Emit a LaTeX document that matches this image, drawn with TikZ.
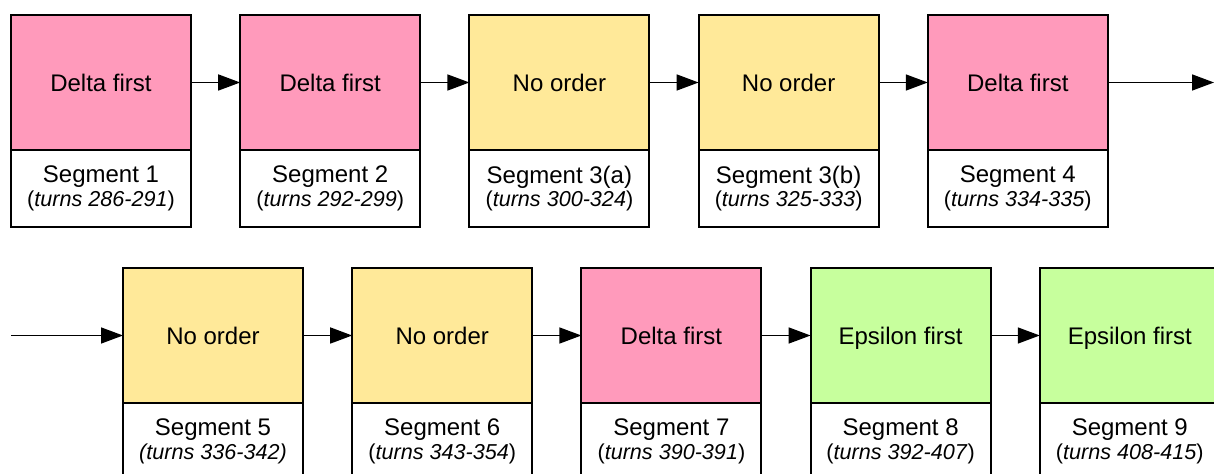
\documentclass[tikz,border=0pt]{standalone}
\usepackage{fontspec}
\setmainfont{Liberation Sans}
\usepackage{tikz}
\usetikzlibrary{positioning}
\usetikzlibrary{arrows.meta}

\definecolor{deltapink}{RGB}{255,154,187}
\definecolor{noneyellow}{RGB}{255,233,153}
\definecolor{epsgreen}{RGB}{199,255,157}
\newcommand{\turnsfont}{\fontsize{10.8}{11.7}\selectfont}

\begin{document}
\begin{tikzpicture}[
		x=0.5pt, y=-0.5pt,
		node distance=24.6pt,
		every node/.style={draw,line width=1pt,minimum width=90pt,inner sep=0pt,outer sep=0pt,
			font=\fontsize{12}{11.7}\selectfont},
		segbox/.style={minimum height=67.5pt,text height=8.7pt,text depth=0pt},
		lab/.style={fill=white,minimum height=38.5pt,align=center},
		deltafirst/.style={segbox,fill=deltapink},
		noorder/.style={segbox,fill=noneyellow},
		epsfirst/.style={segbox,fill=epsgreen},
		link/.style={-{Triangle[length=11pt,width=8pt]},line width=0.75pt}
		]
		\useasboundingbox (0,0) rectangle (1214,474);
		% first row
		\node[deltafirst] (s1) at (101,82.5) {Delta first};
		\node[deltafirst, right=of s1] (s2) {Delta first};
		\node[noorder, right=of s2] (s3a) {No order};
		\node[noorder, right=of s3a] (s3b) {No order};
		\node[deltafirst, right=of s3b] (s4) {Delta first};
		\node[lab, below=0pt of s1] (s1l) {Segment 1\\\turnsfont(\textit{turns 286-291})};
		\node[lab, below=0pt of s2] (s2l) {Segment 2\\\turnsfont(\textit{turns 292-299})};
		\node[lab, below=0pt of s3a] (s3al) {Segment 3(a)\\\turnsfont(\textit{turns 300-324})};
		\node[lab, below=0pt of s3b] (s3bl) {Segment 3(b)\\\turnsfont(\textit{turns 325-333})};
		\node[lab, below=0pt of s4] (s4l) {Segment 4\\\turnsfont(\textit{turns 334-335})};
		\coordinate (r1end) at (1214,82.5);
		% second row
		\node[noorder] (s5) at (213,335.5) {No order};
		\node[noorder, right=of s5] (s6) {No order};
		\node[deltafirst, right=of s6] (s7) {Delta first};
		\node[epsfirst, right=of s7] (s8) {Epsilon first};
		\node[epsfirst, right=of s8] (s9) {Epsilon first};
		\node[lab, below=0pt of s5] (s5l) {Segment 5\\\turnsfont\textit{(turns 336-342)}};
		\node[lab, below=0pt of s6] (s6l) {Segment 6\\\turnsfont(\textit{turns 343-354})};
		\node[lab, below=0pt of s7] (s7l) {Segment 7\\\turnsfont(\textit{turns 390-391})};
		\node[lab, below=0pt of s8] (s8l) {Segment 8\\\turnsfont(\textit{turns 392-407})};
		\node[lab, below=0pt of s9] (s9l) {Segment 9\\\turnsfont(\textit{turns 408-415})};
		\coordinate (r2start) at (11,335.5);
		% links
		\draw[link] (s1) -- (s2);
		\draw[link] (s2) -- (s3a);
		\draw[link] (s3a) -- (s3b);
		\draw[link] (s3b) -- (s4);
		\draw[link] (s4) -- (r1end);
		\draw[link] (r2start) -- (s5);
		\draw[link] (s5) -- (s6);
		\draw[link] (s6) -- (s7);
		\draw[link] (s7) -- (s8);
		\draw[link] (s8) -- (s9);
	\end{tikzpicture}
\end{document}
